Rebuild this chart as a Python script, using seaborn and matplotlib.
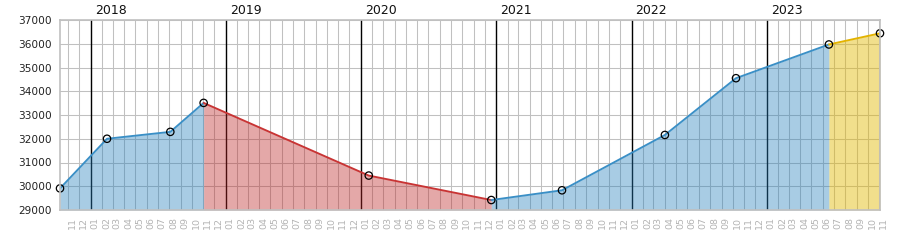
import matplotlib
matplotlib.use("Agg")
import matplotlib.pyplot as plt
from matplotlib.transforms import ScaledTranslation, blended_transform_factory
import seaborn as sns
import pandas as pd
import numpy as np

# ---- data ----
dates = ["2017-10-10", "2018-02-14", "2018-08-04", "2018-11-02", "2020-01-22",
         "2020-12-18", "2021-06-27", "2022-04-01", "2022-10-10", "2023-06-18",
         "2023-11-03"]
values = [29910, 32000, 32290, 33510, 30450, 29420, 29830, 32160, 34550, 35970, 36440]
# segments: (start index, end index, name)
segments = [(0, 3, "s1"), (3, 5, "s2"), (5, 9, "s3"), (9, 10, "s4")]
line_colors = {"s1": "#3a8fc6", "s2": "#c83434", "s3": "#3a8fc6", "s4": "#e3b300"}
fill_colors = {"s1": "#2680bc", "s2": "#bc2626", "s3": "#2680bc", "s4": "#e2b800"}
fill_alpha = {"s1": 0.4, "s2": 0.4, "s3": 0.4, "s4": 0.45}
years = [2018, 2019, 2020, 2021, 2022, 2023]
x_start, x_end = "2017-10-10", "2023-11-03"
y_min, y_max, y_step = 29000, 37000, 1000

dt = pd.to_datetime(dates)
rows = []
for s, e, name in segments:
    for i in range(s, e + 1):
        rows.append({"date": dt[i], "value": values[i], "seg": name})
df = pd.DataFrame(rows)

sns.set_style("white")
plt.rcParams["font.family"] = ["DejaVu Sans"]

fig = plt.figure(figsize=(9, 2.5), dpi=100)
ax = fig.add_axes([60 / 900, 1 - 210 / 250, 820 / 900, 190 / 250])

# year lines (below fills)
for y in years:
    ax.axvline(pd.Timestamp(f"{y}-01-01"), color="black", linewidth=1, zorder=0.8)

# fills
for s, e, name in segments:
    sub = df[df.seg == name]
    ax.fill_between(sub["date"], sub["value"], y_min, color=fill_colors[name],
                    alpha=fill_alpha[name], linewidth=0, zorder=1)

sns.lineplot(data=df, x="date", y="value", hue="seg", palette=line_colors,
             legend=False, ax=ax, linewidth=1.35, zorder=3, estimator=None, sort=False)

ax.scatter(dt, values, s=28, facecolors="none", edgecolors="black",
           linewidths=0.9, zorder=5, clip_on=False)

ax.set_xlim(pd.Timestamp(x_start), pd.Timestamp(x_end))
ax.set_ylim(y_min, y_max)

month_ticks = pd.date_range("2017-11-01", "2023-11-01", freq="MS")
ax.set_xticks(month_ticks)
ax.set_xticklabels([d.strftime("%m") for d in month_ticks], rotation=90,
                   ha="left", fontsize=6.8, color="#b4b4b4")
ax.set_yticks(np.arange(y_min, y_max + 1, y_step))
ax.set_yticklabels([str(v) for v in np.arange(y_min, y_max + 1, y_step)],
                   fontsize=7.6, color="#222222")
ax.tick_params(axis="x", length=0, pad=5)
ax.tick_params(axis="y", length=0, pad=6)

ax.set_axisbelow(True)
ax.grid(True, color="#c0c0c0", linewidth=0.75)
for sp in ax.spines.values():
    sp.set_color("#c0c0c0")
    sp.set_linewidth(1.2)
    sp.set_zorder(6)

ax.set_xlabel("")
ax.set_ylabel("")

trans = blended_transform_factory(ax.transData, ax.transAxes)
off = ScaledTranslation(4 / 100, 3 / 100, fig.dpi_scale_trans)
for y in years:
    ax.text(pd.Timestamp(f"{y}-01-01"), 1.0, str(y), transform=trans + off,
            ha="left", va="bottom", fontsize=9, color="#111111")

fig.savefig("out.png", dpi=100)
